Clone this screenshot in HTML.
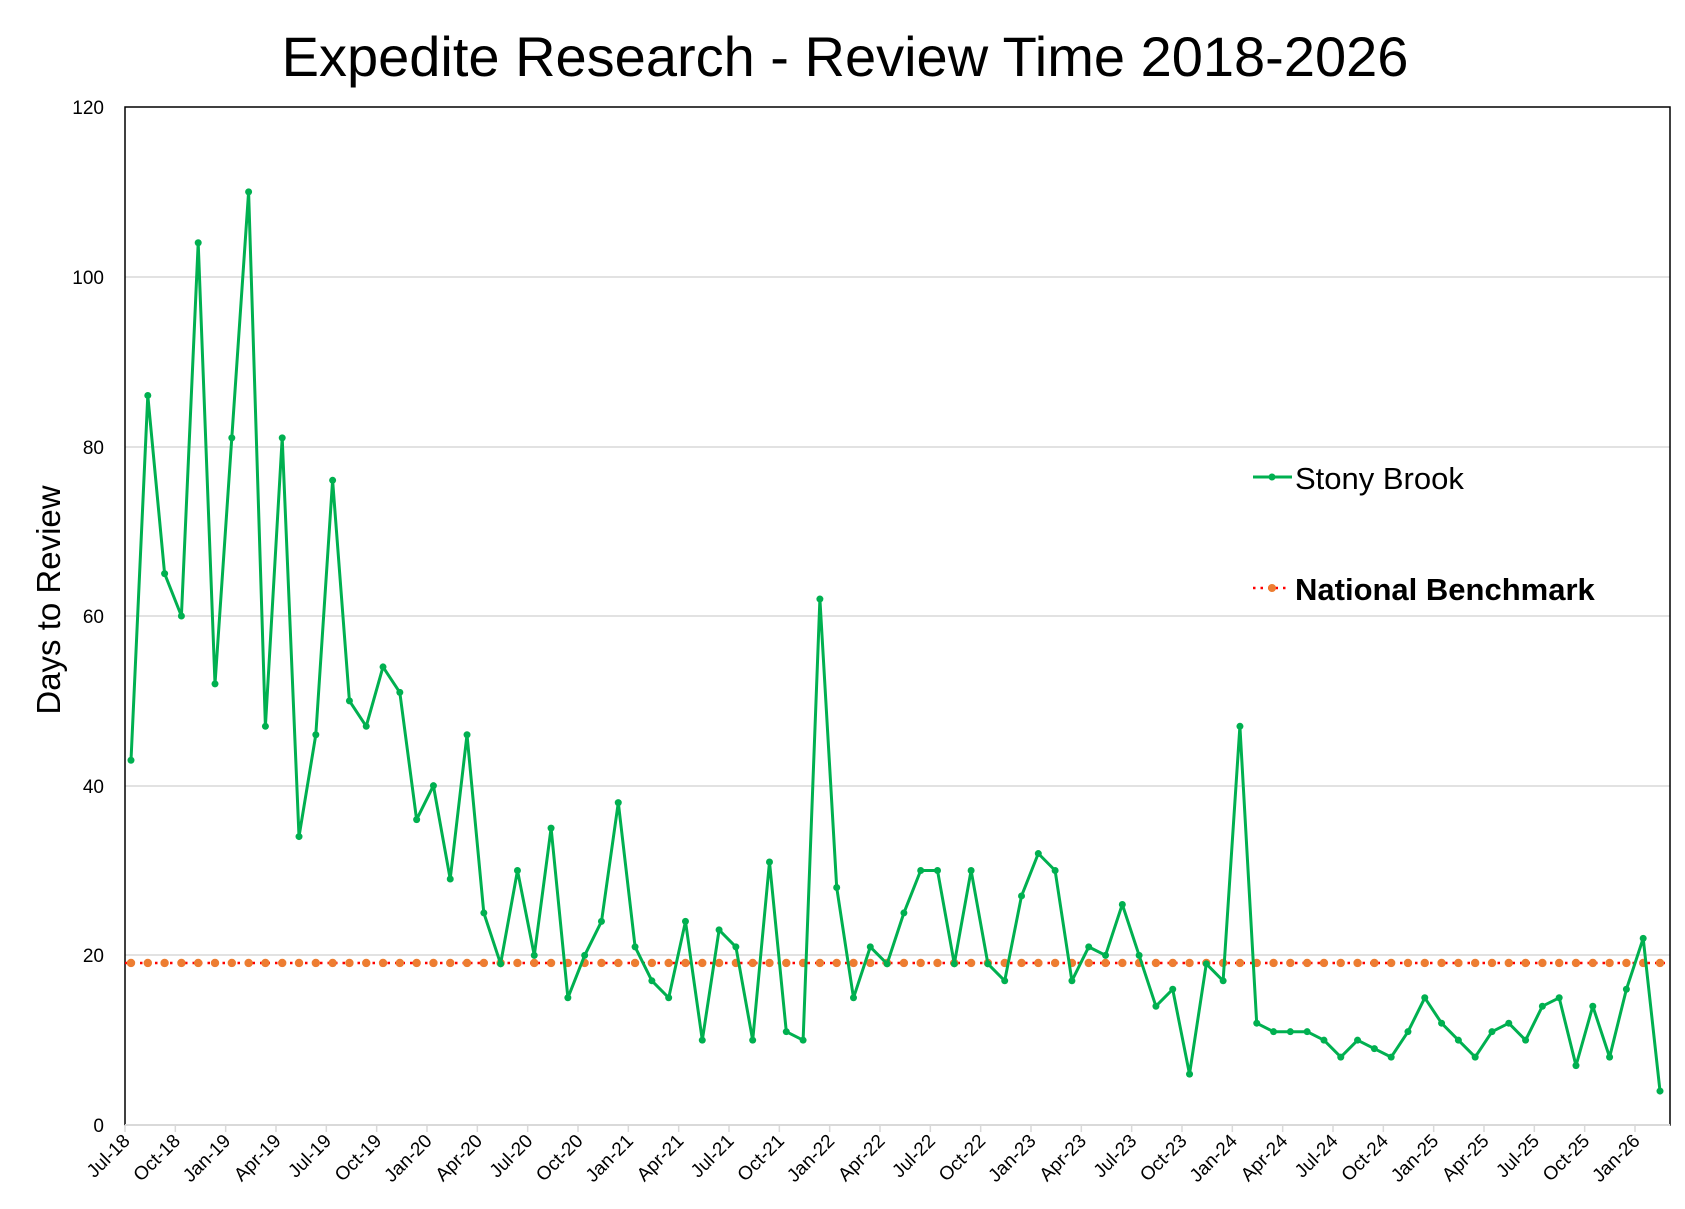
<!DOCTYPE html>
<html><head><meta charset="utf-8"><style>html,body{margin:0;padding:0;background:#fff}svg{display:block}text{font-family:"Liberation Sans",sans-serif}</style></head>
<body>
<svg id="c" width="1685" height="1209" xmlns="http://www.w3.org/2000/svg">
<rect width="1685" height="1209" fill="#fff"/>
<text x="845" y="76" font-size="56" text-anchor="middle">Expedite Research - Review Time 2018-2026</text>
<g stroke="#d9d9d9" stroke-width="1.5">
<line x1="125" x2="1670" y1="277" y2="277"/><line x1="125" x2="1670" y1="447" y2="447"/><line x1="125" x2="1670" y1="616" y2="616"/><line x1="125" x2="1670" y1="786" y2="786"/><line x1="125" x2="1670" y1="955" y2="955"/><line x1="125" x2="1670" y1="1125" y2="1125"/>
</g>
<rect x="125" y="107" width="1545" height="1018" fill="none" stroke="#000" stroke-width="1.5"/>
<line x1="125" x2="1670" y1="1125" y2="1125" stroke="#d9d9d9" stroke-width="2"/>
<g font-size="19" text-anchor="end">
<text x="104" y="114">120</text><text x="104" y="284">100</text><text x="104" y="454">80</text><text x="104" y="623">60</text><text x="104" y="793">40</text><text x="104" y="962">20</text><text x="104" y="1132">0</text>
</g>
<text transform="translate(60,600) rotate(-90)" font-size="33" text-anchor="middle">Days to Review</text>
<g id="ticks"></g>
<g id="bench"></g>
<polyline id="sb" fill="none" stroke="#00b050" stroke-width="3" stroke-linejoin="round"/>
<g id="dots" fill="#00b050"></g>
<line x1="1253" x2="1292" y1="477" y2="477" stroke="#00b050" stroke-width="3"/>
<circle cx="1272" cy="477" r="3.5" fill="#00b050"/>
<text x="1295" y="489" font-size="31">Stony Brook</text>
<line x1="1253" x2="1290" y1="588" y2="588" stroke="#ff0000" stroke-width="2.5" stroke-dasharray="2.5,5"/>
<circle cx="1272" cy="588" r="4" fill="#ed7d31"/>
<text x="1295" y="600" font-size="31" font-weight="bold">National Benchmark</text>
</svg>
<script>
var ns="http://www.w3.org/2000/svg";
function el(t,a,p){var e=document.createElementNS(ns,t);for(var k in a)e.setAttribute(k,a[k]);p.appendChild(e);return e;}
var v=[43,86,65,60,104,52,81,110,47,81,34,46,76,50,47,54,51,36,40,29,46,25,19,30,20,35,15,20,24,38,21,17,15,24,10,23,21,10,31,11,10,62,28,15,21,19,25,30,30,19,30,19,17,27,32,30,17,21,20,26,20,14,16,6,19,17,47,12,11,11,11,10,8,10,9,8,11,15,12,10,8,11,12,10,14,15,7,14,8,16,22,4];
function Y(x){return 1125-x*8.483;}
var pts=[],d=document.getElementById("dots"),b=document.getElementById("bench");
var step=(1660-131)/(v.length-1);
var by=Y(19.1);
el("line",{x1:125,x2:1665,y1:by,y2:by,stroke:"#ff0000","stroke-width":2.5,"stroke-dasharray":"2.5,5"},b);
for(var i=0;i<v.length;i++){var x=131+i*step;pts.push(x.toFixed(1)+","+Y(v[i]).toFixed(1));el("circle",{cx:x,cy:Y(v[i]),r:3.5},d);el("circle",{cx:x,cy:by,r:4.2,fill:"#ed7d31"},b);}
document.getElementById("sb").setAttribute("points",pts.join(" "));
var m=["Jul","Oct","Jan","Apr"],yr=18,t=document.getElementById("ticks");
for(var k=0;k<=30;k++){var mm=m[k%4];if(mm=="Jan"&&k>0)yr++;var x=125+k*(1635-125)/30;
el("line",{x1:x,x2:x,y1:1125,y2:1132,stroke:"#d9d9d9","stroke-width":1.5},t);
var tx=el("text",{transform:"translate("+(x+6)+",1142) rotate(-45)","font-size":19,"text-anchor":"end"},t);tx.textContent=mm+"-"+yr;}
</script>
</body></html>
